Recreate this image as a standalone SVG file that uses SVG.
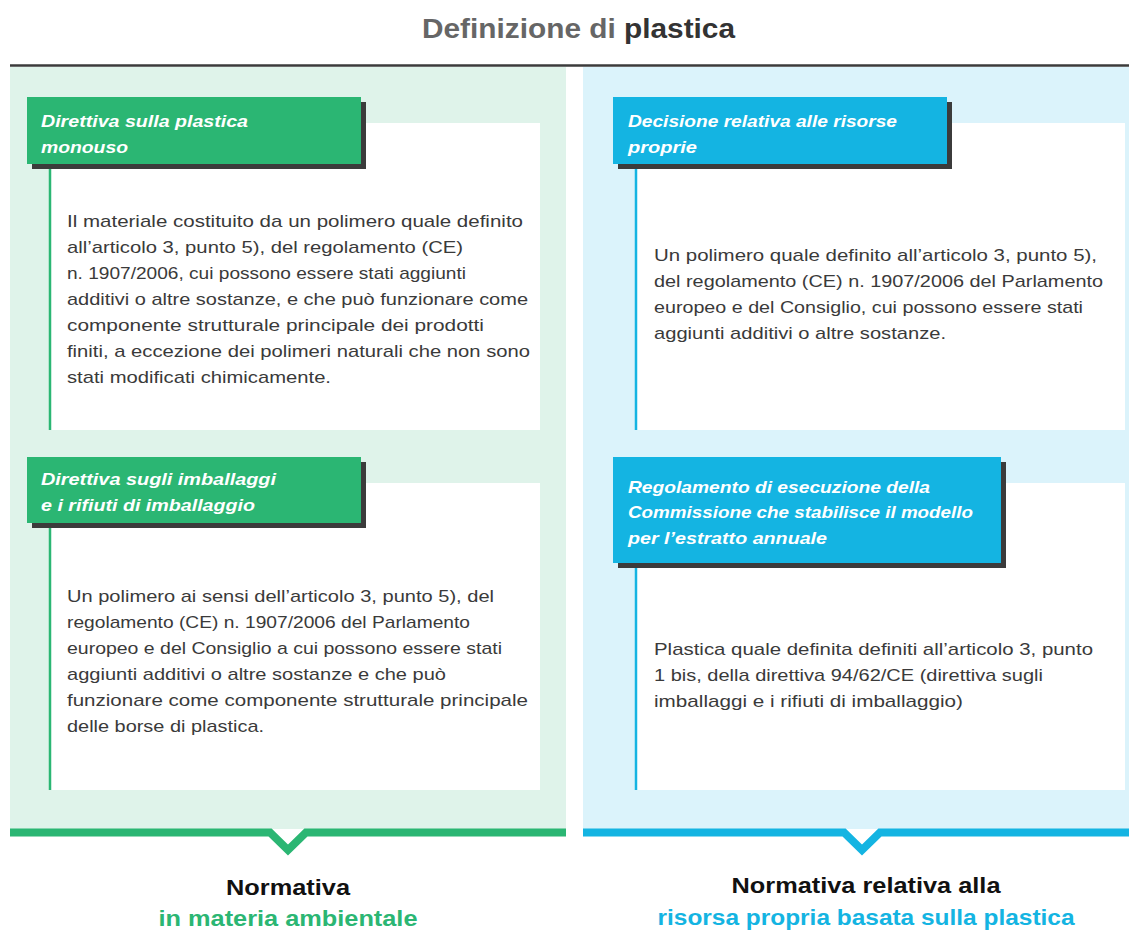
<svg xmlns="http://www.w3.org/2000/svg" width="1129" height="930" viewBox="0 0 1129 930">
<style>
  .title { font-family: "Liberation Sans", Arial, sans-serif; font-weight: bold; font-size: 28px; }
  .body { font-family: "Liberation Sans", Arial, sans-serif; font-size: 17px; fill: #3a3a3a; }
  .head { font-family: "Liberation Sans", Arial, sans-serif; font-size: 17px; font-weight: bold; font-style: italic; fill: #ffffff; }
  .foot { font-family: "Liberation Sans", Arial, sans-serif; font-size: 22px; font-weight: bold; text-anchor: middle; }
  .shadow { fill: #3b3b3b; }
  .card { fill: #ffffff; }
  .g-head { fill: #2bb673; }
  .b-head { fill: #14b4e2; }
  .g-line { stroke: #2bb673; stroke-width: 2.5; }
  .b-line { stroke: #14b4e2; stroke-width: 2.5; }
</style>

<rect width="1129" height="930" fill="#ffffff"/>

<!-- title -->
<text class="title" x="422" y="38" textLength="313" lengthAdjust="spacingAndGlyphs"><tspan fill="#666666">Definizione di </tspan><tspan fill="#333333">plastica</tspan></text>
<line x1="10" y1="65.5" x2="1129" y2="65.5" stroke="#3b3b3b" stroke-width="2.5"/>

<!-- column backgrounds -->
<rect id="col-env" x="10" y="67" width="556" height="762" fill="#dff3ea"/>
<rect id="col-own" x="583" y="67" width="546" height="762" fill="#dbf3fb"/>

<!-- card: single-use plastics directive -->
<g id="card-monouso">
  <rect class="card" x="50" y="123" width="490" height="307"/>
  <line class="g-line" x1="50" y1="164" x2="50" y2="430"/>
  <rect class="shadow" x="32" y="102" width="334" height="67"/>
  <rect class="g-head" x="27" y="97" width="334" height="67"/>
  <text class="head" x="41" y="127" textLength="207" lengthAdjust="spacingAndGlyphs">Direttiva sulla plastica</text>
  <text class="head" x="41" y="153" textLength="87" lengthAdjust="spacingAndGlyphs">monouso</text>
  <text class="body" x="67" y="227" textLength="456" lengthAdjust="spacingAndGlyphs">Il materiale costituito da un polimero quale definito</text>
  <text class="body" x="67" y="253" textLength="396" lengthAdjust="spacingAndGlyphs">all’articolo 3, punto 5), del regolamento (CE)</text>
  <text class="body" x="67" y="279" textLength="399" lengthAdjust="spacingAndGlyphs">n. 1907/2006, cui possono essere stati aggiunti</text>
  <text class="body" x="67" y="305" textLength="461" lengthAdjust="spacingAndGlyphs">additivi o altre sostanze, e che può funzionare come</text>
  <text class="body" x="67" y="331" textLength="417" lengthAdjust="spacingAndGlyphs">componente strutturale principale dei prodotti</text>
  <text class="body" x="67" y="357" textLength="463" lengthAdjust="spacingAndGlyphs">finiti, a eccezione dei polimeri naturali che non sono</text>
  <text class="body" x="67" y="383" textLength="264" lengthAdjust="spacingAndGlyphs">stati modificati chimicamente.</text>
</g>

<!-- card: packaging directive -->
<g id="card-imballaggi">
  <rect class="card" x="50" y="483" width="490" height="307"/>
  <line class="g-line" x1="50" y1="523" x2="50" y2="790"/>
  <rect class="shadow" x="32" y="462" width="334" height="66"/>
  <rect class="g-head" x="27" y="457" width="334" height="66"/>
  <text class="head" x="41" y="485" textLength="235" lengthAdjust="spacingAndGlyphs">Direttiva sugli imballaggi</text>
  <text class="head" x="41" y="511" textLength="214" lengthAdjust="spacingAndGlyphs">e i rifiuti di imballaggio</text>
  <text class="body" x="67" y="602" textLength="427" lengthAdjust="spacingAndGlyphs">Un polimero ai sensi dell’articolo 3, punto 5), del</text>
  <text class="body" x="67" y="628" textLength="403" lengthAdjust="spacingAndGlyphs">regolamento (CE) n. 1907/2006 del Parlamento</text>
  <text class="body" x="67" y="654" textLength="435" lengthAdjust="spacingAndGlyphs">europeo e del Consiglio a cui possono essere stati</text>
  <text class="body" x="67" y="680" textLength="379" lengthAdjust="spacingAndGlyphs">aggiunti additivi o altre sostanze e che può</text>
  <text class="body" x="67" y="706" textLength="461" lengthAdjust="spacingAndGlyphs">funzionare come componente strutturale principale</text>
  <text class="body" x="67" y="732" textLength="197" lengthAdjust="spacingAndGlyphs">delle borse di plastica.</text>
</g>

<!-- card: own resources decision -->
<g id="card-risorse">
  <rect class="card" x="636" y="123" width="489" height="307"/>
  <line class="b-line" x1="636" y1="164" x2="636" y2="430"/>
  <rect class="shadow" x="618" y="102" width="334" height="67"/>
  <rect class="b-head" x="613" y="97" width="334" height="67"/>
  <text class="head" x="628" y="127" textLength="269" lengthAdjust="spacingAndGlyphs">Decisione relativa alle risorse</text>
  <text class="head" x="628" y="153" textLength="69" lengthAdjust="spacingAndGlyphs">proprie</text>
  <text class="body" x="654" y="261" textLength="443" lengthAdjust="spacingAndGlyphs">Un polimero quale definito all’articolo 3, punto 5),</text>
  <text class="body" x="654" y="287" textLength="449" lengthAdjust="spacingAndGlyphs">del regolamento (CE) n. 1907/2006 del Parlamento</text>
  <text class="body" x="654" y="313" textLength="429" lengthAdjust="spacingAndGlyphs">europeo e del Consiglio, cui possono essere stati</text>
  <text class="body" x="654" y="339" textLength="292" lengthAdjust="spacingAndGlyphs">aggiunti additivi o altre sostanze.</text>
</g>

<!-- card: implementing regulation -->
<g id="card-regolamento">
  <rect class="card" x="636" y="483" width="489" height="307"/>
  <line class="b-line" x1="636" y1="563" x2="636" y2="790"/>
  <rect class="shadow" x="618" y="462" width="388" height="106"/>
  <rect class="b-head" x="613" y="457" width="388" height="106"/>
  <text class="head" x="628" y="493" textLength="302" lengthAdjust="spacingAndGlyphs">Regolamento di esecuzione della</text>
  <text class="head" x="628" y="518" textLength="345" lengthAdjust="spacingAndGlyphs">Commissione che stabilisce il modello</text>
  <text class="head" x="628" y="544" textLength="199" lengthAdjust="spacingAndGlyphs">per l’estratto annuale</text>
  <text class="body" x="654" y="655" textLength="439" lengthAdjust="spacingAndGlyphs">Plastica quale definita definiti all’articolo 3, punto</text>
  <text class="body" x="654" y="681" textLength="389" lengthAdjust="spacingAndGlyphs">1 bis, della direttiva 94/62/CE (direttiva sugli</text>
  <text class="body" x="654" y="707" textLength="309" lengthAdjust="spacingAndGlyphs">imballaggi e i rifiuti di imballaggio)</text>
</g>

<!-- bottom bars with pointers -->
<g id="connectors" fill="none" stroke-width="8" stroke-linejoin="miter">
  <polyline points="10,832.5 270,832.5 288,850 306,832.5 566,832.5" stroke="#2bb673"/>
  <polyline points="583,832.5 844,832.5 862,850 880,832.5 1129,832.5" stroke="#14b4e2"/>
</g>

<!-- column captions -->
<g id="label-env">
  <text class="foot" x="288" y="895" fill="#111111" textLength="124" lengthAdjust="spacingAndGlyphs">Normativa</text>
  <text class="foot" x="288" y="926" fill="#2bb673" textLength="259" lengthAdjust="spacingAndGlyphs">in materia ambientale</text>
</g>
<g id="label-own">
  <text class="foot" x="866" y="893" fill="#111111" textLength="269" lengthAdjust="spacingAndGlyphs">Normativa relativa alla</text>
  <text class="foot" x="866" y="925" fill="#14b4e2" textLength="417" lengthAdjust="spacingAndGlyphs">risorsa propria basata sulla plastica</text>
</g>
</svg>
